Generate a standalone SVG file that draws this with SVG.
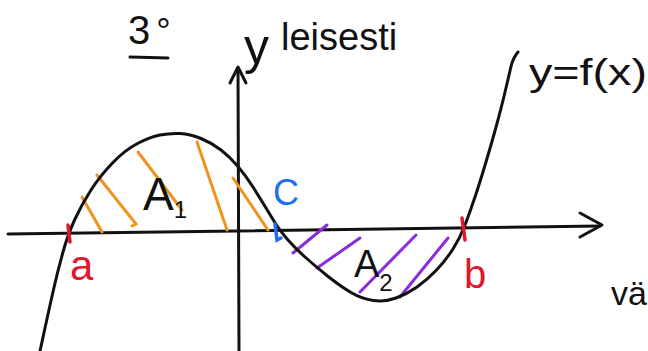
<svg xmlns="http://www.w3.org/2000/svg" width="648" height="351" viewBox="0 0 648 351">
<style>
.ink{fill:none;stroke:#111;stroke-width:3;stroke-linecap:round;stroke-linejoin:round}
.or{fill:none;stroke:#F0921E;stroke-width:3;stroke-linecap:round}
.pu{fill:none;stroke:#8A2BE2;stroke-width:3;stroke-linecap:round}
.rd{fill:none;stroke:#E3162F;stroke-width:3.5;stroke-linecap:round}
.bl{fill:none;stroke:#1E6FF0;stroke-width:3.5;stroke-linecap:round}
text{font-family:"Liberation Sans","DejaVu Sans",sans-serif;}
.t{fill:#111}
.tr{fill:#E3162F}
.tb{fill:#1E6FF0}
</style>
<rect width="648" height="351" fill="#fff"/>
<g id="axes">
  <path class="ink" d="M8,234 L600,226"/>
  <path class="ink" d="M580,213 L602,225 L580,237"/>
  <path class="ink" d="M239,351 L238,68"/>
  <path class="ink" d="M230,83 L238,67 L246,83"/>
</g>
<g id="hatch-A1">
  <path class="or" d="M82,197 L102,232"/>
  <path class="or" d="M97,175 L136,224 L132,226"/>
  <path class="or" d="M138,152 L182,210"/>
  <path class="or" d="M197,142 L227,230"/>
  <path class="or" d="M233,178 L268,230"/>
</g>
<g id="hatch-A2">
  <path class="pu" d="M293,253 L327,225"/>
  <path class="pu" d="M317,268 L360,238"/>
  <path class="pu" d="M360,292 L416,235"/>
  <path class="pu" d="M400,297 L448,238"/>
</g>
<g id="curve">
  <path class="ink" d="M40,351 L45,328 Q50,305 54,287.5 Q58,270 63,252 Q68,234 75,219 Q82,204 91,190 Q100,176 112.5,163 Q125,150 137.5,143.5 Q150,137 160,135 Q170,133 180,133.5 Q190,134 201,138.5 Q212,143 221,150 Q230,157 238,166.5 Q246,176 253,187 Q260,198 266,208 Q272,218 276.5,225 Q281,232 288,240 Q295,248 305,257 Q315,266 327.5,276 Q340,286 351,292.5 Q362,299 373.5,300.5 Q385,302 396,298 Q407,294 417,287 Q427,280 436.5,270 Q446,260 453,249 Q460,238 465,225 Q470,212 475,197 Q480,182 486,162 Q492,142 497,123.5 Q502,105 505.5,90 Q509,75 511,66.5 Q513,58 518,52"/>
</g>
<g id="ticks">
  <path class="rd" d="M68,225 L70,242"/>
  <path class="rd" d="M462,218 L465,240"/>
  <path class="bl" d="M275,224 L277,240 L281,238"/>
</g>
<g id="labels">
  <text class="t" x="128" y="44" font-size="40">3<tspan dx="6" font-size="36">°</tspan></text>
  <path class="ink" d="M130,57 L168,58"/>
  <text class="t" x="244" y="64" font-size="50">y</text>
  <text class="t" x="281" y="50" font-size="38">leisesti</text>
  <text class="t" x="529" y="85" font-size="36" textLength="118" lengthAdjust="spacingAndGlyphs">y=f(x)</text>
  <text class="t" x="143" y="210" font-size="46">A<tspan font-size="24" dy="8">1</tspan></text>
  <text class="t" x="354" y="277" font-size="38">A<tspan font-size="24" dy="14">2</tspan></text>
  <text class="tr" x="70" y="280" font-size="42">a</text>
  <text class="tr" x="464" y="288" font-size="40">b</text>
  <text class="tb" x="273" y="205" font-size="36">C</text>
  <text class="t" x="611" y="305" font-size="34">vä</text>
</g>
</svg>
